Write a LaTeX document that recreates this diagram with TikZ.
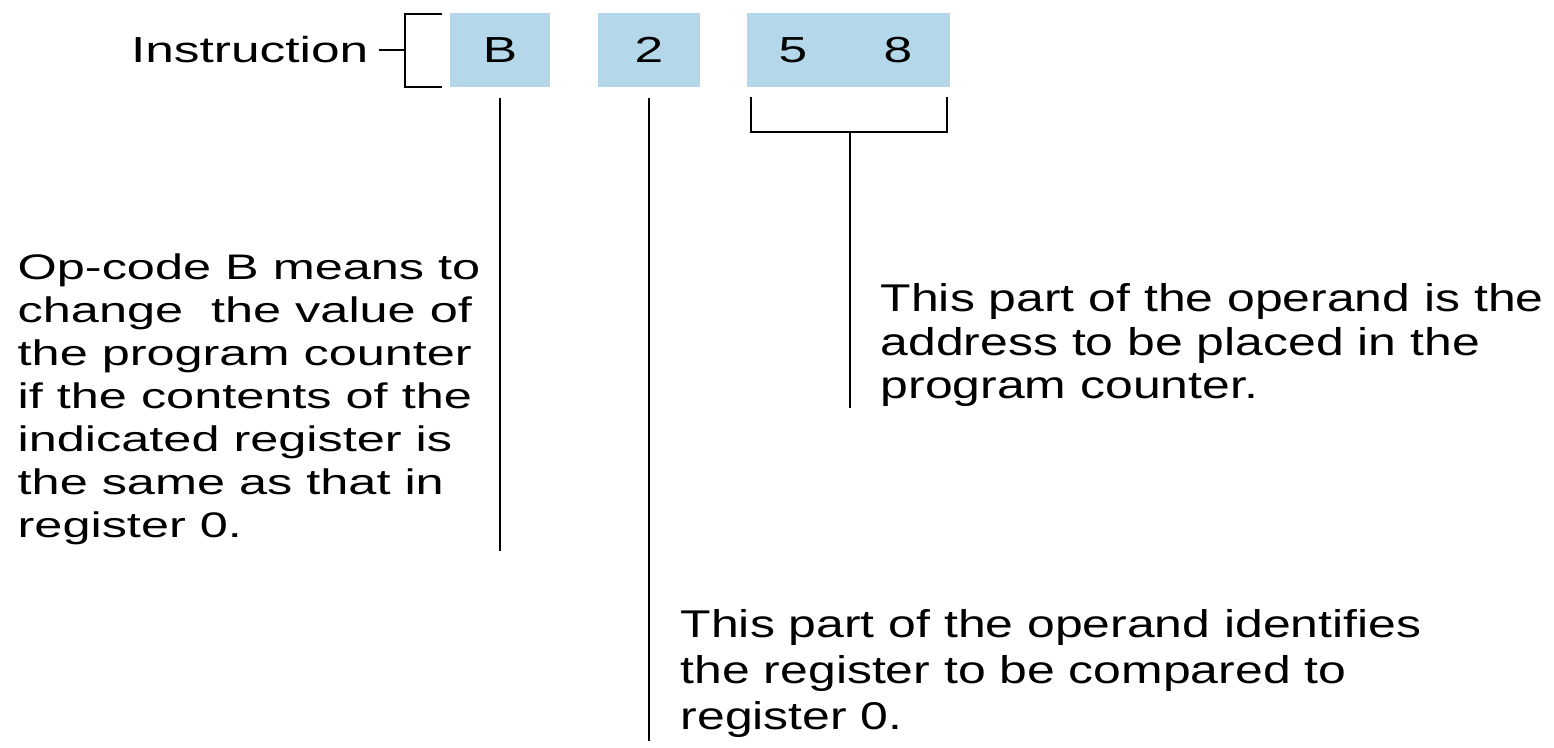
\documentclass[tikz,border=0pt]{standalone}
\usepackage{fontspec}
\setmainfont{Liberation Sans}[FakeStretch=1.42]
\newfontfamily\notefont{Liberation Sans}[FakeStretch=1.29]
\usetikzlibrary{positioning}
\definecolor{cellblue}{RGB}{180,215,234}

\begin{document}
\begin{tikzpicture}[x=0.01cm, y=-0.01cm,
    cell/.style={rectangle, fill=cellblue, minimum height=0.74cm, inner sep=0pt},
    digit/.style={inner sep=0pt, font=\fontsize{10.3}{12}\selectfont},
    note/.style={align=left, anchor=north west, inner sep=0pt},
    lead/.style={line width=0.8pt}
]
\useasboundingbox (0,0) rectangle (1554,747);

% Instruction cells
\node[cell, minimum width=1.00cm] (opcode) at (500,50) {};
\node[cell, minimum width=1.02cm] (reg) at (649,50) {};
\node[cell, minimum width=2.03cm] (addr) at (848.5,50) {};
\node[digit] (opB) at (opcode.center) {B};
\node[digit] (reg2) at (reg.center) {2};
\node[digit] (addr5) at (793,50) {5};
\node[digit] (addr8) at (898,50) {8};

\node[digit, anchor=east] (instr) at (369,50) {Instruction};

% Bracket round the instruction
\coordinate (brk) at (405,50);
\draw[lead] (instr.east) ++(10,0) -- (brk);
\draw[lead] (442,14) -| (405,87) -- (442,87);

% Notes
\node[note, font=\fontsize{10.1}{12.25}\selectfont] (opnote) at (17,253)
    {Op-code B means to\\change\ \ the value of\\the program counter\\if the contents of the\\indicated register is\\the same as that in\\register 0.};
\node[note, font=\notefont\fontsize{11}{12.3}\selectfont] (addrnote) at (880,283)
    {This part of the operand is the\\address to be placed in the\\program counter.};
\node[note, font=\notefont\fontsize{11}{13}\selectfont] (regnote) at (680,609)
    {This part of the operand identifies\\the register to be compared to\\register 0.};

% Leaders
\draw[lead] (opcode.south) ++(0,10) -- ++(0,453);
\draw[lead] (reg.south) ++(0,10) -- ++(0,643);
\draw[lead] (751,97) |- (947,132) -- (947,97);
\draw[lead] (850,132) -- (850,408);

\end{tikzpicture}
\end{document}
